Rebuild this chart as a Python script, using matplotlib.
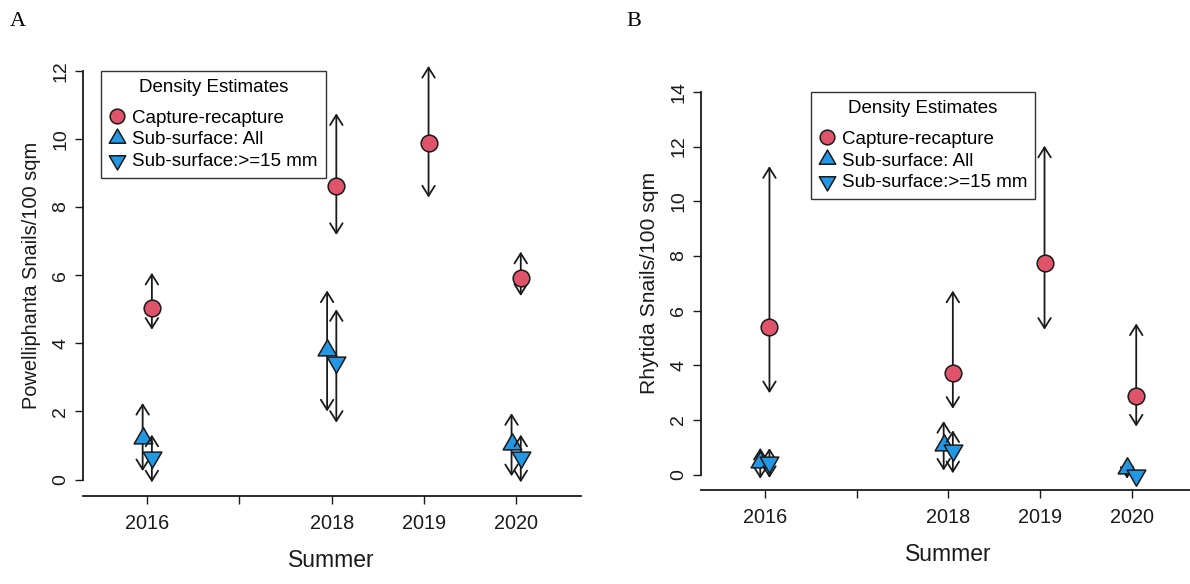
import matplotlib.pyplot as plt
from matplotlib.lines import Line2D
from matplotlib.path import Path
import numpy as np

plt.rcParams['font.family'] = ['Liberation Sans', 'DejaVu Sans']

# survey summers
years_cr = [2016, 2018, 2019, 2020]
years_sub = [2016, 2018, 2020]
tick_years = [2016, 2017, 2018, 2019, 2020]
tick_labels = ['2016', '', '2018', '2019', '2020']

# Powelliphanta density estimates (snails / 100 sqm) with CI limits
pow_cr = [5.05, 8.63, 9.87, 5.93]
pow_cr_lo = [4.40, 7.18, 8.28, 5.39]
pow_cr_hi = [6.07, 10.75, 12.14, 6.69]
pow_all = [1.22, 3.80, 1.05]
pow_all_lo = [0.25, 2.00, 0.10]
pow_all_hi = [2.25, 5.55, 1.95]
pow_15 = [0.66, 3.45, 0.66]
pow_15_lo = [-0.08, 1.67, -0.08]
pow_15_hi = [1.32, 5.00, 1.32]

# Rhytida density estimates (snails / 100 sqm) with CI limits
rhy_cr = [5.40, 3.70, 7.73, 2.88]
rhy_cr_lo = [2.98, 2.41, 5.30, 1.76]
rhy_cr_hi = [11.28, 6.73, 12.03, 5.53]
rhy_all = [0.45, 1.10, 0.25]
rhy_all_lo = [-0.15, 0.15, -0.15]
rhy_all_hi = [0.98, 1.96, 0.56]
rhy_15 = [0.45, 0.90, 0.00]
rhy_15_lo = [-0.12, 0.05, 0.00]
rhy_15_hi = [0.97, 1.62, 0.00]

RED = '#DF536B'
BLUE = '#2297E6'
INK = '#1a1a1a'

# R style filled triangles (centred on the centroid)
tri_up = Path([(0, 1.555), (1.347, -0.778), (-1.347, -0.778), (0, 1.555)],
              [Path.MOVETO, Path.LINETO, Path.LINETO, Path.CLOSEPOLY])
tri_dn = Path([(0, -1.555), (1.347, 0.778), (-1.347, 0.778), (0, -1.555)],
              [Path.MOVETO, Path.LINETO, Path.LINETO, Path.CLOSEPOLY])

styles = [
    dict(marker='o', ms=12, mfc=RED, label='Capture-recapture'),
    dict(marker=tri_up, ms=15.5, mfc=BLUE, label='Sub-surface: All'),
    dict(marker=tri_dn, ms=15.5, mfc=BLUE, label='Sub-surface:>=15 mm'),
]


def ci_arrows(ax, x, lo, hi, z):
    for xi, l, h in zip(x, lo, hi):
        if h - l <= 0:
            continue
        ax.annotate('', xy=(xi, h), xytext=(xi, l),
                    arrowprops=dict(arrowstyle='<->,head_length=0.72,head_width=0.45',
                                    lw=1.3, color=INK, shrinkA=0, shrinkB=0),
                    annotation_clip=False, zorder=z)


def panel(ax, series, ymax, ylab, ylab_size, leg_x):
    z = 3
    for (x, v, lo, hi, off), st in zip(series, styles):
        xs = np.array(x) + off
        ci_arrows(ax, xs, lo, hi, z)
        ax.plot(xs, v, linestyle='none', marker=st['marker'], ms=st['ms'],
                mfc=st['mfc'], mec=INK, mew=1.1, zorder=z + 1, clip_on=False)
        z += 2

    pad = 0.04 * ymax
    ax.set_xlim(2015.3, 2020.7)
    ax.set_ylim(-pad, ymax + pad)
    ax.spines['top'].set_visible(False)
    ax.spines['right'].set_visible(False)
    ax.spines['left'].set_bounds(0, ymax)
    for s in ('left', 'bottom'):
        ax.spines[s].set_linewidth(1.3)
        ax.spines[s].set_color(INK)

    ax.set_xticks(tick_years)
    ax.set_xticklabels(tick_labels, fontsize=14.3, color=INK)
    ax.set_yticks(np.arange(0, ymax + 1, 2))
    ax.set_yticklabels([str(t) for t in range(0, ymax + 1, 2)], rotation=90,
                       va='center', fontsize=14, color=INK)
    ax.tick_params(axis='both', length=5.8, width=1.0, color=INK)
    ax.tick_params(axis='x', pad=7)
    ax.tick_params(axis='y', pad=4)
    ax.set_xlabel('Summer', fontsize=16.5, color=INK, labelpad=12)
    ax.set_ylabel(ylab, fontsize=ylab_size, color=INK, labelpad=8)

    handles = [Line2D([], [], linestyle='none', marker=st['marker'], ms=st['ms'] * 0.88,
                      mfc=st['mfc'], mec=INK, mew=1.1) for st in styles]
    leg = ax.legend(handles, [st['label'] for st in styles], title='Density Estimates',
                    loc='upper left', bbox_to_anchor=(leg_x, ymax),
                    bbox_transform=ax.transData, borderaxespad=0,
                    fontsize=13.5, title_fontsize=13.5, frameon=True, fancybox=False,
                    edgecolor='#333333', framealpha=1, borderpad=0.42,
                    handlelength=0.85, handletextpad=0.4, labelspacing=0.25)
    leg._legend_box.sep = 10  # extra room under the legend title
    leg.get_frame().set_linewidth(1.0)
    leg.set_zorder(2)


fig = plt.figure(figsize=(11.9, 5.84), dpi=100)
ax1 = fig.add_axes([0.0695, 0.1507, 0.4185, 0.7562])
ax2 = fig.add_axes([0.5888, 0.161, 0.4161, 0.708])

panel(ax1, [(years_cr, pow_cr, pow_cr_lo, pow_cr_hi, 0.05),
            (years_sub, pow_all, pow_all_lo, pow_all_hi, -0.05),
            (years_sub, pow_15, pow_15_lo, pow_15_hi, 0.05)],
      12, 'Powelliphanta Snails/100 sqm', 14.4, 2015.5)
panel(ax2, [(years_cr, rhy_cr, rhy_cr_lo, rhy_cr_hi, 0.05),
            (years_sub, rhy_all, rhy_all_lo, rhy_all_hi, -0.05),
            (years_sub, rhy_15, rhy_15_lo, rhy_15_hi, 0.05)],
      14, 'Rhytida Snails/100 sqm', 15.2, 2016.5)

fig.text(18 / 1190, 1 - 22 / 584, 'A', family='Liberation Serif', fontsize=16,
         ha='center', va='center', color='black')
fig.text(634 / 1190, 1 - 22 / 584, 'B', family='Liberation Serif', fontsize=16,
         ha='center', va='center', color='black')

fig.savefig('out.png', dpi=100)
